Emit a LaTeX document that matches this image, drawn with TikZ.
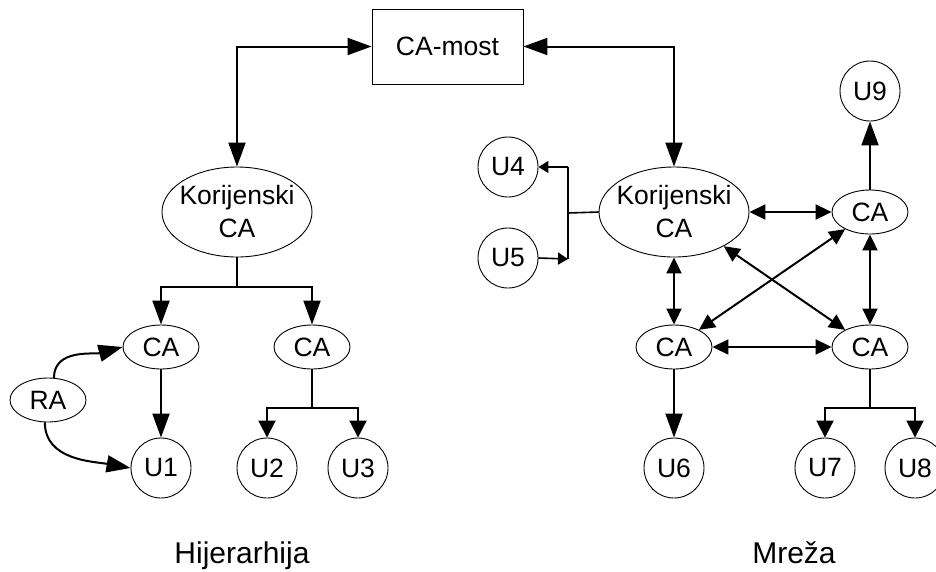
\documentclass[tikz,border=0pt]{standalone}
\usepackage{fontspec}
\setmainfont{Liberation Sans}
\usetikzlibrary{arrows.meta,shapes.geometric}
\begin{document}
\begin{tikzpicture}[x=1pt,y=-1pt,
  every node/.style={font=\fontsize{26.5}{33}\selectfont},
  outline/.style={draw, line width=0.9pt},
  oval/.style={outline, ellipse, inner sep=0pt, minimum width=76pt, minimum height=44pt},
  rootoval/.style={outline, ellipse, inner xsep=-5pt, inner ysep=0pt,
    minimum width=150pt, minimum height=90pt, align=center},
  user/.style={outline, circle, inner sep=0pt, minimum size=60pt},
  caption/.style={font=\fontsize{30}{35}\selectfont, anchor=base},
  link/.style={line width=2pt},
  thinlink/.style={line width=1.6pt},
  bigtip/.tip={Triangle[length=24pt,width=17pt]},
  midtip/.tip={Triangle[length=16pt,width=15pt]},
  treetip/.tip={Triangle[length=17pt,width=17pt]},
  smalltip/.tip={Triangle[length=10pt,width=12pt]},
]
\clip (0,0) rectangle (936,571);

% bridge CA
\node[outline, minimum width=151pt, minimum height=75pt, inner sep=0pt] (most) at (447.5,46.5) {CA-most};

% hierarchical model
\node[rootoval] (rootA) at (237,212) {Korijenski\\CA};
\node[oval] (caA) at (161,347) {CA};
\node[oval] (caB) at (312,347) {CA};
\node[oval] (ra) at (48,400) {RA};
\node[user] (u1) at (161,468) {U1};
\node[user] (u2) at (267,468) {U2};
\node[user] (u3) at (358,468) {U3};

% mesh model
\node[rootoval] (rootB) at (674,212) {Korijenski\\CA};
\node[oval] (caTR) at (870,212) {CA};
\node[oval] (caBL) at (674,347) {CA};
\node[oval] (caBR) at (870,347) {CA};
\node[user] (u4) at (508,167) {U4};
\node[user] (u5) at (508,258) {U5};
\node[user] (u6) at (674,468) {U6};
\node[user] (u7) at (825,468) {U7};
\node[user] (u8) at (915,468) {U8};
\node[user] (u9) at (870,91) {U9};

% captions
\node[caption] (capA) at (242,563) {Hijerarhija};
\node[caption] (capB) at (794,563) {Mreža};

% bridge links
\draw[link, bigtip-bigtip] (rootA.north) |- (most.west);
\draw[link, bigtip-bigtip] (rootB.north) |- (most.east);

% hierarchy tree
\coordinate (jA) at (237,287);
\draw[link] (rootA.south) -- (jA);
\draw[link, -bigtip] (jA) -| (caA.north);
\draw[link, -bigtip] (jA) -| (caB.north);
\draw[link, -bigtip] (caA.south) -- (u1.north);
\coordinate (jB) at (312,408);
\draw[link] (caB.south) -- (jB);
\draw[link, -treetip] (jB) -| (u2.north);
\draw[link, -treetip] (jB) -| (u3.north);
\draw[link, -bigtip] (ra.75) to[out=90, in=195] (caA.west);
\draw[link, -bigtip] (ra.262) to[out=-90, in=170] (u1.west);

% mesh links
\coordinate (bm) at (568,213);
\coordinate (bt) at (568,167);
\coordinate (bb) at (568,259);
\draw[thinlink] (rootB.west) -- (bm);
\draw[thinlink] (bt) -- (bb);
\draw[thinlink, -smalltip] (bt) -- (u4.east);
\draw[thinlink, -smalltip] (u5.east) -- (bb);

\draw[link, midtip-midtip] (rootB.east) -- (caTR.west);
\draw[link, midtip-midtip] (rootB.south) -- (caBL.north);
\draw[link, midtip-midtip] (caTR.south) -- (caBR.north);
\draw[link, midtip-midtip] (caBL.east) -- (caBR.west);
\draw[link, midtip-midtip] (caBL) -- (caTR);
\draw[link, midtip-midtip] (rootB) -- (caBR);
\draw[link, -bigtip] (caTR.north) -- (u9.south);
\draw[link, -bigtip] (caBL.south) -- (u6.north);
\coordinate (jC) at (870,408);
\draw[link] (caBR.south) -- (jC);
\draw[link, -treetip] (jC) -| (u7.north);
\draw[link, -treetip] (jC) -| (u8.north);
\end{tikzpicture}
\end{document}
